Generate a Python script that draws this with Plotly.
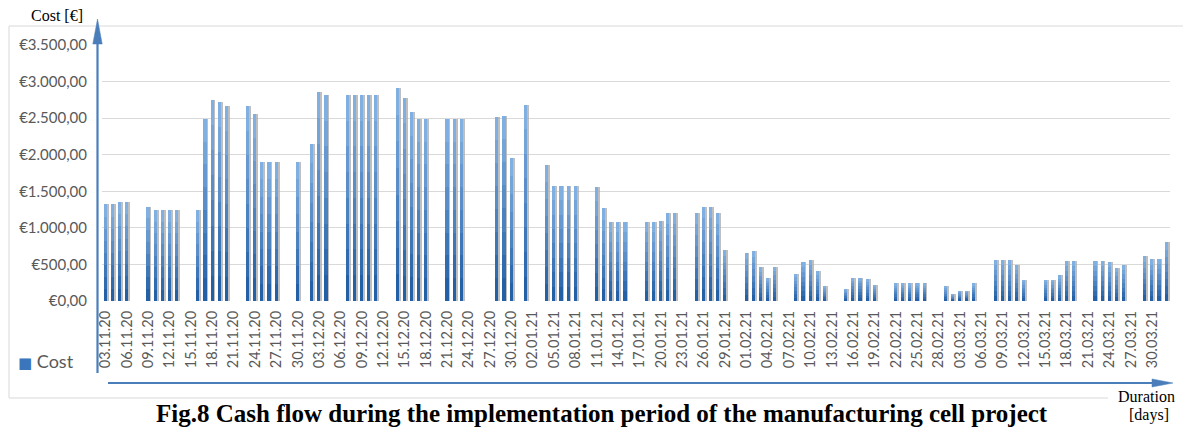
import pandas as pd
import plotly.graph_objects as go

# Daily project cost in euro, starting Tue 03.11.2020 (weekends and holidays = 0)
cost = [
    1320, 1320, 1360, 1360, 0, 0,                 # 03.11 - 08.11
    1290, 1240, 1240, 1240, 1240, 0, 0,           # 09.11 - 15.11
    1240, 2490, 2750, 2720, 2660, 0, 0,           # 16.11 - 22.11
    2660, 2550, 1900, 1900, 1900, 0, 0,           # 23.11 - 29.11
    1900, 0, 2150, 2860, 2820, 0, 0,              # 30.11 - 06.12
    2820, 2820, 2820, 2820, 2820, 0, 0,           # 07.12 - 13.12
    2910, 2780, 2580, 2490, 2490, 0, 0,           # 14.12 - 20.12
    2490, 2490, 2490, 0, 0, 0, 0,                 # 21.12 - 27.12
    2510, 2530, 1950, 0, 2680, 0, 0,              # 28.12 - 03.01
    1860, 1575, 1575, 1575, 1575, 0, 0,           # 04.01 - 10.01
    1555, 1270, 1080, 1080, 1080, 0, 0,           # 11.01 - 17.01
    1080, 1080, 1100, 1200, 1200, 0, 0,           # 18.01 - 24.01
    1210, 1290, 1290, 1210, 700, 0, 0,            # 25.01 - 31.01
    650, 690, 460, 320, 470, 0, 0,                # 01.02 - 07.02
    370, 530, 560, 410, 200, 0, 0,                # 08.02 - 14.02
    170, 320, 320, 300, 220, 0, 0,                # 15.02 - 21.02
    240, 240, 240, 240, 240, 0, 0,                # 22.02 - 28.02
    200, 90, 140, 140, 240, 0, 0,                 # 01.03 - 07.03
    560, 560, 560, 490, 290, 0, 0,                # 08.03 - 14.03
    290, 290, 350, 550, 550, 0, 0,                # 15.03 - 21.03
    550, 550, 530, 450, 490, 0, 0,                # 22.03 - 28.03
    610, 570, 580, 800,                           # 29.03 - 01.04
]

days = list(pd.date_range("2020-11-03", periods=len(cost), freq="D").strftime("%d.%m.%y"))
tick_days = days[::3]

y_ticks = [0, 500, 1000, 1500, 2000, 2500, 3000, 3500]
y_tick_text = ["€0,00", "€500,00", "€1.000,00", "€1.500,00", "€2.000,00",
               "€2.500,00", "€3.000,00", "€3.500,00"]

W, H = 1183, 428
ML, MR, MT, MB = 102, 13, 45, 127
PL, PR, PT, PB = ML, W - MR, MT, H - MB


def px(x):
    return (x - PL) / (PR - PL)


def py(y):
    return (PB - y) / (PB - PT)


fig = go.Figure()

# soft grey drop shadow to the right of every bar
fig.add_trace(go.Bar(
    x=days, y=cost, offset=-0.18, width=0.62,
    marker=dict(color="rgba(170,170,170,0.75)", line=dict(width=0)),
    showlegend=False, hoverinfo="skip",
))

# vertical colour gradient: light blue at the top, dark blue at the base
top_rgb = (128, 176, 226)
bot_rgb = (36, 96, 166)
n_layers = 8
for i in range(n_layers):
    frac = 1 - i / n_layers
    t = i / (n_layers - 1)
    rgb = tuple(round(top_rgb[j] + (bot_rgb[j] - top_rgb[j]) * t) for j in range(3))
    fig.add_trace(go.Bar(
        x=days, y=[v * frac for v in cost], offset=-0.26, width=0.44,
        marker=dict(color="rgb(%d,%d,%d)" % rgb, line=dict(width=0)),
        name="Cost", showlegend=False,
        hoverinfo="skip" if i else "x+y",
    ))

grey = "#595959"
fig.update_layout(
    width=W, height=H, autosize=False,
    margin=dict(l=ML, r=MR, t=MT, b=MB, pad=0, autoexpand=False),
    paper_bgcolor="white", plot_bgcolor="white",
    barmode="overlay", bargap=0,
    font=dict(family="Lato, Carlito, sans-serif", color=grey),
    showlegend=False,
    xaxis=dict(
        type="category", categoryorder="array", categoryarray=days,
        tickmode="array", tickvals=tick_days, ticktext=tick_days,
        tickangle=-90, tickfont=dict(size=14.5, color=grey),
        showgrid=False, showline=False, zeroline=False, ticks="",
        ticklabelstandoff=6, range=[-0.5, len(days) - 0.5],
    ),
    yaxis=dict(
        range=[0, 3500], tickmode="array", tickvals=y_ticks, ticktext=y_tick_text,
        tickfont=dict(size=15, color=grey), showgrid=True, gridcolor="#d9d9d9",
        gridwidth=1, zeroline=False, showline=False, ticks="",
        ticklabelstandoff=14,
    ),
)

shapes = []
frame = "#d9d9d9"
# chart frame
shapes.append(dict(type="line", xref="paper", yref="paper",
                   x0=px(9), x1=px(1183), y0=py(26), y1=py(26),
                   line=dict(color=frame, width=1)))
shapes.append(dict(type="line", xref="paper", yref="paper",
                   x0=px(9), x1=px(9), y0=py(26), y1=py(398),
                   line=dict(color=frame, width=1)))
shapes.append(dict(type="line", xref="paper", yref="paper",
                   x0=px(9), x1=px(1108), y0=py(398), y1=py(398),
                   line=dict(color=frame, width=1)))

arrow = "#4a7ebb"
# vertical axis arrow
shapes.append(dict(type="line", xref="paper", yref="paper",
                   x0=px(97.5), x1=px(97.5), y0=py(373), y1=py(40),
                   line=dict(color=arrow, width=2.2)))
shapes.append(dict(type="path", xref="paper", yref="paper",
                   path="M %f,%f L %f,%f L %f,%f Z" % (
                       px(92.8), py(44), px(97.5), py(19), px(102.2), py(44)),
                   fillcolor=arrow, line=dict(color=arrow, width=0.5)))
# horizontal axis arrow
shapes.append(dict(type="line", xref="paper", yref="paper",
                   x0=px(108), x1=px(1155), y0=py(383), y1=py(383),
                   line=dict(color=arrow, width=2.2)))
shapes.append(dict(type="path", xref="paper", yref="paper",
                   path="M %f,%f L %f,%f L %f,%f Z" % (
                       px(1152), py(379), px(1173), py(383), px(1152), py(387)),
                   fillcolor=arrow, line=dict(color=arrow, width=0.5)))
fig.update_layout(shapes=shapes)

serif = "Liberation Serif, Times New Roman, serif"
annotations = [
    # series key
    dict(text="<span style='color:#3b76bd;font-size:15px;font-family:DejaVu Sans'>■</span> Cost",
         x=px(16), y=py(361), xanchor="left", yanchor="middle",
         font=dict(family="Lato, sans-serif", size=18, color=grey)),
    dict(text="Cost [€]", x=px(57), y=py(15), xanchor="center", yanchor="middle",
         font=dict(family=serif, size=16, color="black")),
    dict(text="Duration", x=px(1146), y=py(396), xanchor="center", yanchor="middle",
         font=dict(family=serif, size=16, color="black")),
    dict(text="[days]", x=px(1149), y=py(415), xanchor="center", yanchor="middle",
         font=dict(family=serif, size=16, color="black")),
    dict(text="<b>Fig.8 Cash flow during the implementation period of the manufacturing cell project</b>",
         x=px(602), y=py(413), xanchor="center", yanchor="middle",
         font=dict(family=serif, size=25, color="black")),
]
for a in annotations:
    a.update(xref="paper", yref="paper", showarrow=False)
fig.update_layout(annotations=annotations)

fig.write_html("out.html")
